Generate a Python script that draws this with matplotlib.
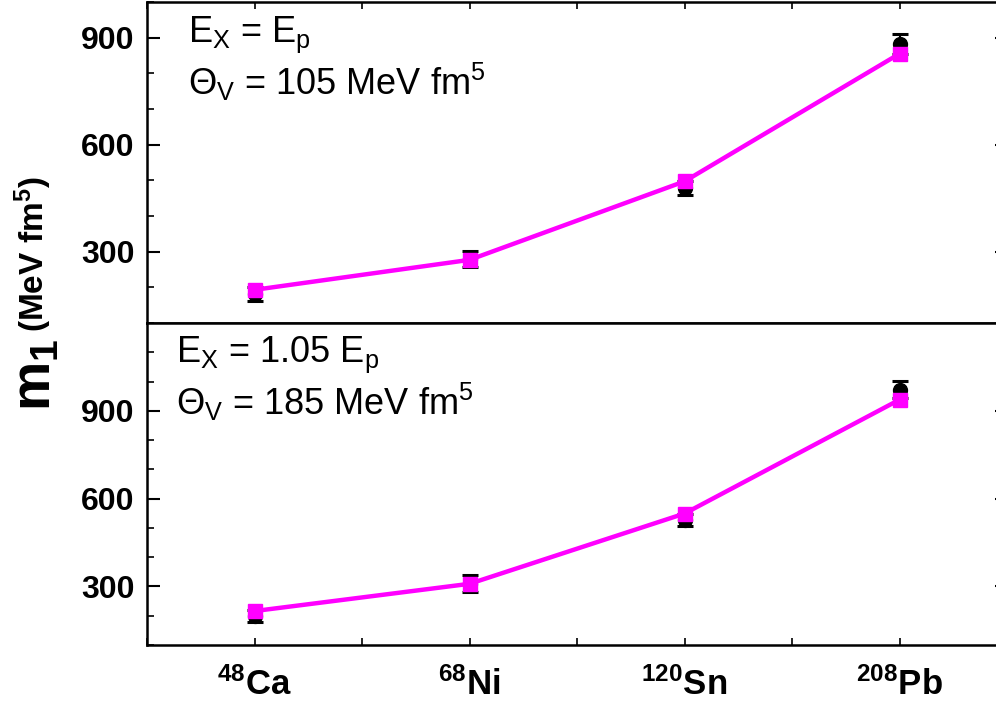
import matplotlib
matplotlib.use("Agg")
import matplotlib.pyplot as plt
from matplotlib.ticker import MultipleLocator, FixedLocator

plt.rcParams['font.family'] = ['Liberation Sans', 'DejaVu Sans']
plt.rcParams['mathtext.fontset'] = 'custom'
plt.rcParams['mathtext.rm'] = 'Liberation Sans'
plt.rcParams['mathtext.it'] = 'Liberation Sans:italic'
plt.rcParams['mathtext.bf'] = 'Liberation Sans:bold'
plt.rcParams['mathtext.sf'] = 'Liberation Sans:bold'

# Data
nuclei = [r'$\mathsf{^{48}Ca}$', r'$\mathsf{^{68}Ni}$', r'$\mathsf{^{120}Sn}$', r'$\mathsf{^{208}Pb}$']
xpos = [1, 2, 3, 4]

top_ref = [182, 280, 479, 883]
top_ref_err = [20, 23, 20, 28]
top_model = [193, 277, 497, 855]

bot_ref = [199, 310, 526, 972]
bot_ref_err = [19, 28, 20, 29]
bot_model = [216, 309, 549, 938]

top_text = [r'E$_\mathrm{X}$ = E$_\mathrm{p}$', r'$\Theta_\mathrm{V}$ = 105 MeV fm$^5$']
bot_text = [r'E$_\mathrm{X}$ = 1.05 E$_\mathrm{p}$', r'$\Theta_\mathrm{V}$ = 185 MeV fm$^5$']

W, H = 996, 713
fig = plt.figure(figsize=(W / 100, H / 100), dpi=100)

left = 147 / W
width = (1007 - 147) / W
ax_top = fig.add_axes([left, (H - 323) / H, width, 321 / H])
ax_bot = fig.add_axes([left, (H - 645) / H, width, 322 / H])

magenta = '#FF00FF'

for ax, ref, err, model, ylim, txt, tx in [
    (ax_top, top_ref, top_ref_err, top_model, (100, 1000), top_text, 188),
    (ax_bot, bot_ref, bot_ref_err, bot_model, (100, 1200), bot_text, 176),
]:
    ax.errorbar(xpos, ref, yerr=err, fmt='o', color='black', ms=10,
                capsize=6, capthick=2.2, elinewidth=1.5, zorder=3)
    ax.plot(xpos, model, '-s', color=magenta, lw=3.2, ms=10, zorder=4)
    ax.set_xlim(0.5, 4.5)
    ax.set_ylim(*ylim)
    ax.yaxis.set_major_locator(FixedLocator([300, 600, 900]))
    ax.yaxis.set_minor_locator(MultipleLocator(100))
    ax.tick_params(axis='y', which='major', direction='in', length=9, width=1.5,
                   labelsize=23, pad=9, right=True)
    ax.tick_params(axis='y', which='minor', direction='in', length=5, width=1.2,
                   right=False)
    for lab in ax.get_yticklabels():
        lab.set_fontweight('bold')
    for sp in ax.spines.values():
        sp.set_linewidth(1.8)
    ax.set_xticks(xpos)
    ax.xaxis.set_minor_locator(MultipleLocator(0.5))
    xf = (tx - 147) / (1007 - 147)
    ax.text(xf, 0.875 if ax is ax_top else 0.88, txt[0], transform=ax.transAxes,
            fontsize=26, va='baseline', ha='left')
    ax.text(xf, 0.71 if ax is ax_top else 0.715, txt[1], transform=ax.transAxes,
            fontsize=26, va='baseline', ha='left')

ax_top.tick_params(axis='x', which='both', direction='in', length=5, width=1.2,
                   top=True, bottom=False, labelbottom=False)
ax_bot.tick_params(axis='x', which='both', direction='in', length=5, width=1.2,
                   top=False, bottom=True, labelsize=25, pad=16)
ax_bot.set_xticklabels(nuclei)

# y label: large m with subscript, then unit
fig.text(36 / W, 1 - 375 / H, r'$\mathbf{m_1}$', rotation=90, fontsize=40,
         ha='center', va='center')
fig.text(33 / W, 1 - 254 / H, r'(MeV fm$^\mathbf{5}$)', rotation=90, fontsize=24,
         fontweight='bold', ha='center', va='center')

fig.savefig('out.png', dpi=100)
